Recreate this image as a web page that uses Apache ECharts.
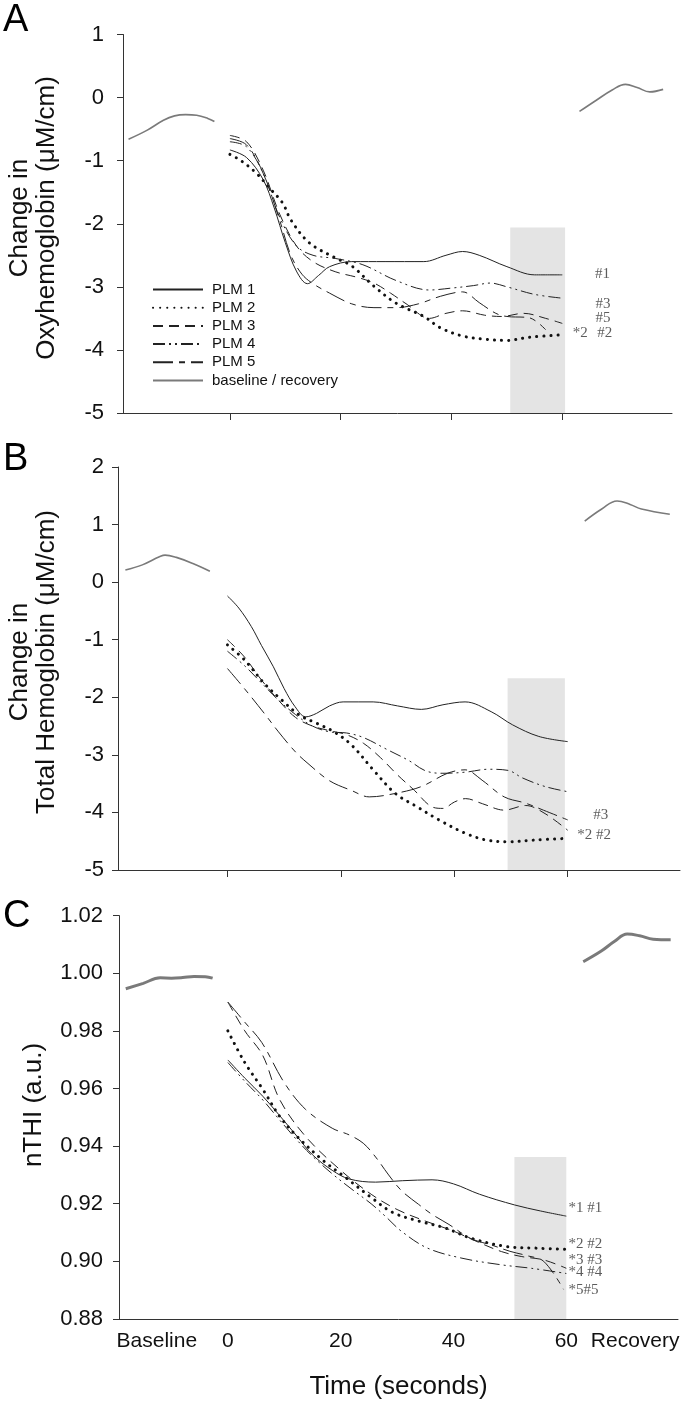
<!DOCTYPE html>
<html><head><meta charset="utf-8">
<script src="https://cdn.jsdelivr.net/npm/echarts@6/dist/echarts.min.js"></script>
<style>html,body{margin:0;padding:0;background:#fff}#c{width:685px;height:1410px}</style>
</head><body><div id="c"></div>
<script>
const seriesNames = ['PLM 1','PLM 2','PLM 3','PLM 4','PLM 5'];
const baseName = 'baseline / recovery';
const panelLetters = ['A','B','C'];
const yTitleA = 'Change in\nOxyhemoglobin (\u03BCM/cm)';
const yTitleB = 'Change in\nTotal Hemoglobin (\u03BCM/cm)';
const yTitleC = 'nTHI (a.u.)';
const xTitle = 'Time (seconds)';
const xTickValues = [0,20,40,60];
const xLabelValuesC = [-12.6,0,20,40,60,72.2];
const xLabelTextsC = ['Baseline','0','20','40','60','Recovery'];

// Panel A: change in oxyhemoglobin
const baseA = [[-18.3,-0.66],[-15,-0.52],[-12,-0.36],[-10,-0.29],[-8,-0.27],[-6,-0.28],[-4,-0.33],[-2.8,-0.38]];
const recA = [[63.1,-0.22],[66,-0.05],[69,0.12],[71.4,0.21],[73.5,0.16],[75.8,0.09],[78.2,0.13]];
const plm1A = [[0,-0.83],[3,-0.95],[6,-1.3],[8,-1.75],[10,-2.3],[12,-2.75],[14,-2.95],[16,-2.82],[18,-2.68],[22,-2.6],[28,-2.6],[35,-2.6],[39,-2.5],[42,-2.44],[45,-2.5],[50,-2.68],[55,-2.81],[60,-2.81]];
const plm2A = [[0,-0.9],[2,-1.0],[4.8,-1.2],[7,-1.42],[9.5,-1.67],[11,-1.94],[14.3,-2.3],[19,-2.54],[22,-2.67],[26,-2.99],[30,-3.26],[35,-3.47],[38,-3.65],[42,-3.78],[46,-3.83],[50,-3.85],[54,-3.8],[60,-3.76]];
const plm3A = [[0,-0.6],[3,-0.7],[6,-1.15],[9,-1.85],[12,-2.35],[15,-2.6],[19,-2.76],[23,-2.85],[26,-2.94],[29,-3.1],[32,-3.28],[36,-3.5],[39,-3.42],[42,-3.38],[46,-3.45],[49,-3.47],[53,-3.42],[57,-3.5],[60,-3.58]];
const plm4A = [[0,-0.7],[3,-0.78],[6,-1.2],[9,-1.9],[12,-2.35],[15,-2.5],[19,-2.55],[24,-2.65],[30,-2.9],[36,-3.05],[40,-3.02],[44,-2.98],[47,-2.94],[50,-3.0],[55,-3.12],[60,-3.18]];
const plm5A = [[0,-0.65],[3,-0.75],[6,-1.2],[9,-1.95],[11,-2.5],[13,-2.8],[15,-2.95],[18,-3.1],[22,-3.27],[26,-3.33],[30,-3.33],[34,-3.27],[38,-3.15],[42,-3.08],[45,-3.25],[48,-3.42],[50,-3.47],[54,-3.49],[57,-3.68]];
const shadeA = [50.6,60.5,-2.06,-5];
const endTextA = ['#1','#3','#5','*2','#2'];
const endPosA = [[65.9,-2.8],[66,-3.28],[66,-3.49],[61.9,-3.73],[66.3,-3.73]];

// Panel B: change in total hemoglobin
const baseB = [[-18,0.21],[-15,0.3],[-12,0.44],[-11,0.47],[-9,0.43],[-6,0.32],[-3.1,0.19]];
const recB = [[63,1.06],[66,1.27],[68.7,1.41],[71,1.35],[73,1.27],[78,1.18]];
const plm1B = [[0,-0.24],[2,-0.45],[4.2,-0.77],[6,-1.1],[8.1,-1.47],[10,-1.85],[11.9,-2.16],[13.8,-2.34],[15.7,-2.28],[18,-2.15],[20.4,-2.08],[25.7,-2.08],[30,-2.15],[34.2,-2.21],[38,-2.13],[41.9,-2.08],[46.5,-2.25],[50.3,-2.48],[54.9,-2.68],[60,-2.77]];
const plm2B = [[0,-1.09],[3,-1.35],[6.5,-1.76],[9.6,-2.05],[12.7,-2.31],[15.7,-2.45],[18.8,-2.6],[21.9,-2.83],[25.7,-3.26],[29.6,-3.67],[33.4,-3.9],[37.3,-4.13],[41.9,-4.36],[45.7,-4.48],[49.5,-4.51],[54.1,-4.48],[60,-4.45]];
const plm3B = [[0,-1.0],[3,-1.3],[6,-1.7],[9,-2.05],[12,-2.35],[15,-2.5],[18,-2.58],[21,-2.65],[24,-2.8],[27,-3.05],[30,-3.35],[33,-3.62],[36,-3.9],[38,-3.93],[40,-3.82],[42,-3.76],[45,-3.85],[48.8,-3.96],[52.6,-3.88],[56,-4.02],[60,-4.31]];
const plm4B = [[0,-1.2],[3,-1.45],[6,-1.75],[9,-2.05],[12,-2.3],[15,-2.5],[18,-2.6],[21,-2.62],[24,-2.7],[28,-2.9],[32,-3.1],[35,-3.28],[38,-3.32],[42,-3.3],[46,-3.25],[49.5,-3.27],[52,-3.4],[56,-3.55],[60,-3.64]];
const plm5B = [[0,-1.5],[3,-1.85],[6.5,-2.28],[9,-2.6],[12,-2.95],[14.2,-3.15],[18,-3.45],[21.9,-3.62],[25,-3.73],[29.6,-3.67],[34.2,-3.55],[38.8,-3.32],[41.9,-3.26],[44.9,-3.44],[48.8,-3.73],[52.6,-3.84],[55.7,-3.96],[60,-4.13]];
const shadeB = [49.4,59.5,-1.67,-5];
const endTextB = ['#3','*2 #2'];
const endPosB = [[64.5,-4.05],[61.7,-4.39]];

// Panel C: nTHI
const baseC = [[-18.1,0.9946],[-15,0.9965],[-12,0.9984],[-10,0.9983],[-8,0.9985],[-6,0.9989],[-4,0.9988],[-2.7,0.9983]];
const recC = [[63,1.004],[66.2,1.0077],[68.5,1.011],[70.8,1.0136],[73,1.013],[75.4,1.0118],[78.5,1.0116]];
const plm1C = [[0,0.9699],[3,0.9636],[6.2,0.9573],[9,0.951],[12.3,0.9433],[15,0.937],[18.5,0.9316],[21.5,0.9286],[26.2,0.9275],[31,0.928],[36.2,0.9283],[40,0.9269],[44.6,0.9233],[50.8,0.9196],[55.4,0.9175],[60,0.9157]];
const plm2C = [[0,0.98],[3,0.969],[6.2,0.9597],[9.2,0.9503],[12.3,0.9433],[16.9,0.935],[20.8,0.9292],[25.4,0.9222],[29.2,0.917],[33.8,0.914],[38.5,0.9116],[43,0.9081],[49.2,0.9052],[54.6,0.9046],[60,0.9042]];
const plm3C = [[0,0.99],[3,0.98],[6.2,0.9714],[9.2,0.9561],[13.8,0.9433],[20,0.9316],[25.4,0.9233],[30,0.918],[35,0.914],[40,0.9105],[44,0.907],[48.5,0.9034],[52,0.9017],[56,0.9005],[60,0.8976]];
const plm4C = [[0,0.969],[3,0.9625],[6.2,0.956],[9,0.9495],[12.3,0.942],[15,0.9365],[18.5,0.9304],[22,0.925],[25.4,0.92],[28,0.9155],[30.8,0.9104],[35.4,0.9046],[41.5,0.9011],[48.5,0.8988],[53.8,0.8976],[60,0.8958]];
const plm5C = [[0,0.99],[3,0.983],[6,0.976],[10,0.962],[13.8,0.9527],[18.5,0.9462],[21.5,0.9439],[24,0.941],[26.2,0.9362],[28.5,0.93],[30.8,0.9245],[33.8,0.9198],[36.2,0.9163],[39.2,0.9128],[43,0.908],[47,0.9055],[50,0.9035],[53,0.902],[56,0.9],[59.5,0.8903]];
const shadeC = [50.8,60,0.9362,0.88];
const endTextC = ['*1 #1','*2 #2','*3 #3','*4 #4','*5#5'];
const endPosC = [[60.4,0.9184],[60.4,0.906],[60.4,0.9005],[60.4,0.8962],[60.4,0.8902]];

// ---- styles & layout ----
const FONT = '"Liberation Sans", Arial, sans-serif';
const SERIF = '"Liberation Serif", "Times New Roman", serif';
const lineStyles = [
  {type:'solid', width:1, color:'#222'},
  {type:[0.1,7], width:3, cap:'round', color:'#111'},
  {type:[10,6], width:1, color:'#222'},
  {type:[12,4,2,4,2,4], width:1, color:'#222'},
  {type:[20,6,6,6], width:1, color:'#222'}
];
const grids = [
  {left:123, top:34.5, width:549, height:378.5},
  {left:118, top:467, width:562, height:403},
  {left:119, top:915.6, width:559, height:403.4}
];
const yCfg = [
  {min:-5,max:1,interval:1,margin:19},
  {min:-5,max:2,interval:1,margin:14},
  {min:0.88,max:1.02,interval:0.02,margin:16}
];
const panels = [
  {plm:[plm1A,plm2A,plm3A,plm4A,plm5A], base:baseA, rec:recA, shade:shadeA, et:endTextA, ep:endPosA, bw:1.6},
  {plm:[plm1B,plm2B,plm3B,plm4B,plm5B], base:baseB, rec:recB, shade:shadeB, et:endTextB, ep:endPosB, bw:1.6},
  {plm:[plm1C,plm2C,plm3C,plm4C,plm5C], base:baseC, rec:recC, shade:shadeC, et:endTextC, ep:endPosC, bw:3}
];

const xAxes = grids.map((g,i)=>({
  type:'value', gridIndex:i, min:-19.3, max:79.8,
  splitLine:{show:false},
  axisLine:{show:true, onZero:false, lineStyle:{color:'#333', width:1}},
  axisTick:{show:i<2, customValues:xTickValues, length:7, lineStyle:{color:'#333'}},
  axisLabel: i===2 ? {
    show:true, customValues:xLabelValuesC, margin:12,
    fontFamily:FONT, fontSize:21, color:'#111',
    formatter:(v)=>{ const k = xLabelValuesC.findIndex(x=>Math.abs(x-v)<1e-6); return k>=0 ? xLabelTextsC[k] : ''; }
  } : {show:false},
  name: i===2 ? xTitle : '', nameLocation:'middle', nameGap:55,
  nameTextStyle:{fontFamily:FONT, fontSize:26, color:'#111'}
}));
const yAxes = grids.map((g,i)=>({
  type:'value', gridIndex:i, min:yCfg[i].min, max:yCfg[i].max, interval:yCfg[i].interval,
  splitLine:{show:false},
  axisLine:{show:true, onZero:false, lineStyle:{color:'#333', width:1}},
  axisTick:{show:true, length:6, lineStyle:{color:'#333'}},
  axisLabel:{fontFamily:FONT, fontSize:22, color:'#111', margin:yCfg[i].margin,
    formatter: i===2 ? (v)=>v.toFixed(2) : (v)=>String(Math.round(v))}
}));

const series = [];
panels.forEach((p,i)=>{
  series.push({type:'line', xAxisIndex:i, yAxisIndex:i, data:[], silent:true, z:1,
    markArea:{silent:true, itemStyle:{color:'#e4e4e4'},
      data:[[{xAxis:p.shade[0], yAxis:p.shade[2]},{xAxis:p.shade[1], yAxis:p.shade[3]}]]}});
  p.plm.forEach((d,k)=>{
    series.push({type:'line', name:seriesNames[k], xAxisIndex:i, yAxisIndex:i, data:d,
      smooth:0.35, symbol:'none', z:3, lineStyle:lineStyles[k], color:lineStyles[k].color});
  });
  [p.base,p.rec].forEach(d=>{
    series.push({type:'line', name:baseName, xAxisIndex:i, yAxisIndex:i, data:d,
      smooth:0.4, symbol:'none', z:3, lineStyle:{color:'#7a7a7a', width:p.bw}, color:'#7a7a7a'});
  });
  series.push({type:'scatter', xAxisIndex:i, yAxisIndex:i, symbolSize:1, z:4,
    itemStyle:{color:'rgba(0,0,0,0)'},
    data:p.ep.map((pt,k)=>({value:pt, name:p.et[k]})),
    label:{show:true, position:'inside', align:'left', verticalAlign:'middle',
      formatter:(o)=>o.name, fontFamily:SERIF, fontSize:15, color:'#333'}});
});

const titleText = (x,y,text)=>({type:'text', x:x, y:y, rotation:Math.PI/2,
  style:{text:text, font:'26px ' + FONT, fill:'#111', align:'center', verticalAlign:'middle', lineHeight:27}});

const graphic = [
  {type:'text', left:3, top:2, style:{text:panelLetters[0], font:'38px ' + FONT, fill:'#000'}},
  {type:'text', left:3, top:441, style:{text:panelLetters[1], font:'38px ' + FONT, fill:'#000'}},
  {type:'text', left:3, top:898, style:{text:panelLetters[2], font:'38px ' + FONT, fill:'#000'}},
  titleText(33,218,yTitleA),
  titleText(33,662,yTitleB),
  titleText(34,1105,yTitleC)
];

const chart = echarts.init(document.getElementById('c'), null, {renderer:'canvas'});
chart.setOption({
  animation:false,
  backgroundColor:'#fff',
  grid:grids,
  xAxis:xAxes,
  yAxis:yAxes,
  legend:{show:true, orient:'vertical', left:147, top:277, itemWidth:50, itemHeight:14, itemGap:3.2,
    data:[...seriesNames, baseName], textStyle:{fontFamily:FONT, fontSize:15, color:'#111', padding:[0,0,0,4]},
    itemStyle:{opacity:0}, selectedMode:false},
  graphic:graphic,
  series:series
});
</script></body></html>
